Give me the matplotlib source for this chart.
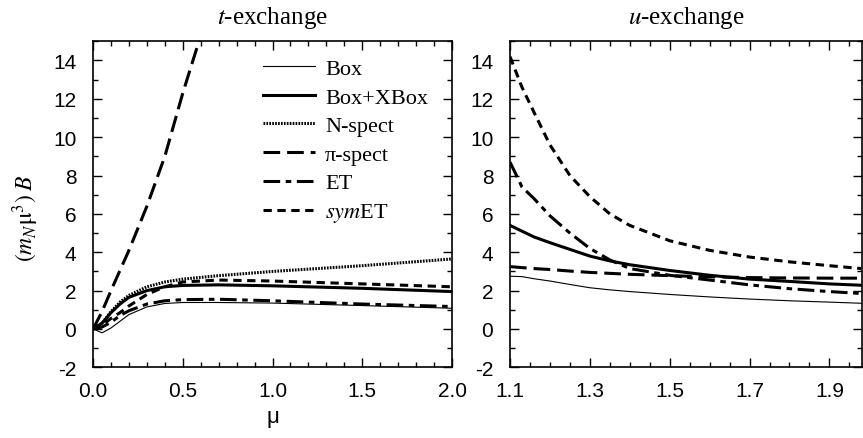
import numpy as np
import matplotlib

matplotlib.use('Agg')
import matplotlib.pyplot as plt
from matplotlib.ticker import MultipleLocator

plt.rcParams['font.family'] = 'Liberation Sans'
plt.rcParams['mathtext.fontset'] = 'stix'
plt.rcParams['lines.scale_dashes'] = False
plt.rcParams['axes.unicode_minus'] = False

# t-exchange
mu_t = [0.0, 0.05, 0.1, 0.15, 0.2, 0.3, 0.4, 0.5, 0.7, 1.0, 1.5, 2.0]
box_t = [0.0, -0.2, 0.05, 0.4, 0.75, 1.15, 1.33, 1.38, 1.38, 1.35, 1.22, 1.08]
boxx_t = [0.0, 0.3, 0.85, 1.3, 1.65, 2.0, 2.2, 2.27, 2.3, 2.25, 2.12, 1.95]
nspec_t = [0.0, 0.3, 0.9, 1.4, 1.75, 2.2, 2.45, 2.6, 2.78, 3.0, 3.3, 3.65]
et_t = [0.0, 0.1, 0.35, 0.7, 0.95, 1.3, 1.47, 1.53, 1.55, 1.47, 1.3, 1.17]
symet_t = [0.0, 0.2, 0.55, 0.85, 1.2, 1.8, 2.2, 2.45, 2.55, 2.5, 2.35, 2.2]
mu_pi = [0.0, 0.05, 0.1, 0.2, 0.3, 0.4, 0.5, 0.6]
pispec_t = [0.0, 0.9, 2.0, 4.1, 6.4, 9.0, 12.3, 15.3]

# u-exchange
mu_u = [1.1, 1.13, 1.16, 1.2, 1.25, 1.3, 1.35, 1.4, 1.5, 1.6, 1.7, 1.8, 1.9, 1.98]
box_u = [2.75, 2.73, 2.62, 2.5, 2.32, 2.15, 2.04, 1.95, 1.8, 1.67, 1.56, 1.47, 1.4, 1.34]
boxx_u = [5.4, 5.1, 4.8, 4.5, 4.15, 3.8, 3.55, 3.35, 3.05, 2.8, 2.6, 2.48, 2.35, 2.28]
pispec_u = [3.25, 3.2, 3.15, 3.1, 3.02, 2.95, 2.9, 2.85, 2.78, 2.72, 2.68, 2.66, 2.65, 2.65]
et_u = [8.7, 7.4, 6.8, 5.9, 5.0, 4.2, 3.6, 3.15, 2.8, 2.55, 2.3, 2.1, 1.95, 1.85]
symet_u = [14.2, 12.6, 11.3, 9.6, 8.0, 6.9, 6.0, 5.4, 4.6, 4.1, 3.75, 3.5, 3.3, 3.15]

fig = plt.figure(figsize=(8.63, 4.39), dpi=100)
ax1 = fig.add_axes([0.1078, 0.161, 0.416, 0.7426])
ax2 = fig.add_axes([0.591, 0.161, 0.408, 0.7426])

s_box = dict(color='k', lw=0.8, ls='-')
s_boxx = dict(color='k', lw=2.2, ls='-')
s_nspec = dict(color='k', lw=2.2, ls=(0, (1.2, 0.9)))
s_pi = dict(color='k', lw=2.2, ls=(0, (12, 5)))
s_et = dict(color='k', lw=2.2, ls=(0, (12, 4, 4, 4)))
s_sym = dict(color='k', lw=2.2, ls=(0, (6, 4)))

ax1.plot(mu_t, box_t, label='Box', **s_box)
ax1.plot(mu_t, boxx_t, label='Box+XBox', **s_boxx)
ax1.plot(mu_t, nspec_t, label='N-spect', **s_nspec)
ax1.plot(mu_pi, pispec_t, label='π-spect', **s_pi)
ax1.plot(mu_t, et_t, label='ET', **s_et)
ax1.plot(mu_t, symet_t, label='$\\mathit{sym}$ET', **s_sym)

ax2.plot(mu_u, box_u, **s_box)
ax2.plot(mu_u, boxx_u, **s_boxx)
ax2.plot(mu_u, pispec_u, **s_pi)
ax2.plot(mu_u, et_u, **s_et)
ax2.plot(mu_u, symet_u, **s_sym)

for ax in (ax1, ax2):
    ax.set_ylim(-2, 15)
    ax.yaxis.set_major_locator(MultipleLocator(2))
    ax.yaxis.set_minor_locator(MultipleLocator(1))
    ax.tick_params(which='both', direction='in', top=True, right=True,
                   labelsize=15, width=1)
    ax.tick_params(which='major', length=6.5, pad=10)
    ax.tick_params(axis='y', which='major', pad=12)
    ax.tick_params(which='minor', length=3.5)
    for sp in ax.spines.values():
        sp.set_linewidth(1.2)

ax1.set_xlim(0, 2)
ax1.xaxis.set_major_locator(MultipleLocator(0.5))
ax1.xaxis.set_minor_locator(MultipleLocator(0.1))
ax1.set_xticks([0, 0.5, 1.0, 1.5, 2.0], ['0.0', '0.5', '1.0', '1.5', '2.0'])

ax2.set_xlim(1.1, 1.982)
ax2.set_xticks([1.1, 1.3, 1.5, 1.7, 1.9], ['1.1', '1.3', '1.5', '1.7', '1.9'])
ax2.xaxis.set_minor_locator(MultipleLocator(0.05))

ax1.set_title('$t$-exchange', fontfamily='Liberation Serif', fontsize=18, pad=13)
ax2.set_title('$u$-exchange', fontfamily='Liberation Serif', fontsize=18, pad=13)
ax1.set_xlabel('μ', fontsize=16, labelpad=4)
ax1.set_ylabel('$(m_N\\mathrm{μ}^3)\\;B$', fontsize=17)
ax1.yaxis.set_label_coords(-0.145, 0.46)

leg = ax1.legend(loc='upper left', bbox_to_anchor=(0.473, 0.947), frameon=False,
                 handlelength=2.35, borderpad=0, borderaxespad=0,
                 prop={'family': 'Liberation Serif', 'size': 16},
                 labelspacing=0.36, handletextpad=0.45)

plt.savefig('out.png', dpi=100)
